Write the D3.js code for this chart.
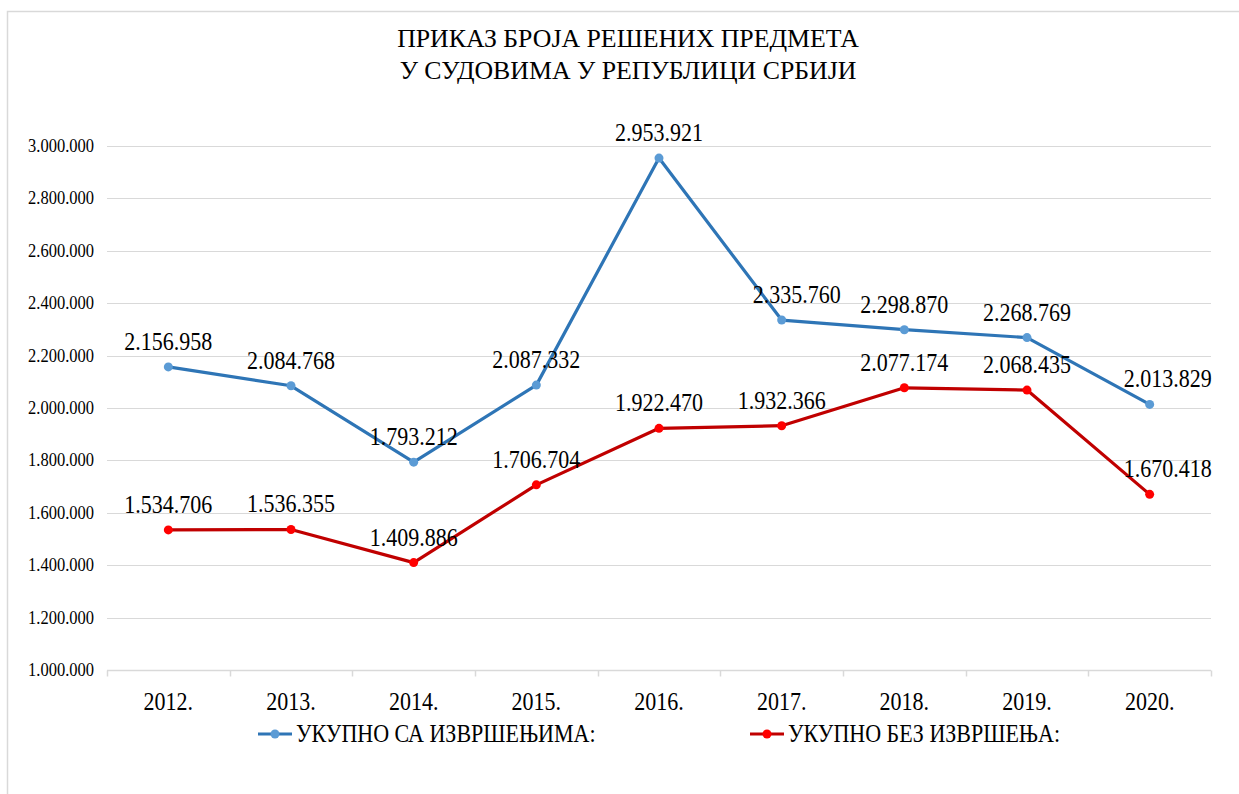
<!DOCTYPE html>
<html>
<head>
<meta charset="utf-8">
<script src="https://cdn.jsdelivr.net/npm/d3@7"></script>
<style>
  html, body { margin: 0; padding: 0; background: #fff; }
  svg { display: block; }
  text { font-family: "Liberation Serif", "Times New Roman", serif; fill: #000; }
</style>
</head>
<body>
<svg id="chart" width="1239" height="794"></svg>
<script>
const years = ["2012.", "2013.", "2014.", "2015.", "2016.", "2017.", "2018.", "2019.", "2020."];
const withEnforcement = [2156958, 2084768, 1793212, 2087332, 2953921, 2335760, 2298870, 2268769, 2013829];
const withoutEnforcement = [1534706, 1536355, 1409886, 1706704, 1922470, 1932366, 2077174, 2068435, 1670418];
const yTicks = [1000000, 1200000, 1400000, 1600000, 1800000, 2000000, 2200000, 2400000, 2600000, 2800000, 3000000];
const titleLines = ["ПРИКАЗ БРОЈА РЕШЕНИХ ПРЕДМЕТА", "У СУДОВИМА У РЕПУБЛИЦИ СРБИЈИ"];
const seriesNames = ["УКУПНО СА ИЗВРШЕЊИМА:", "УКУПНО БЕЗ ИЗВРШЕЊА:"];

const K = 1.13; // vertical stretch of text
const svg = d3.select("#chart");

svg.append("rect").attr("x", 7.5).attr("y", 11.5).attr("width", 1300).attr("height", 900)
  .attr("fill", "none").attr("stroke", "#d9d9d9").attr("stroke-width", 1.5);

const x = d3.scaleBand().domain(years).range([107, 1211]);
const y = d3.scaleLinear().domain([1000000, 3000000]).range([670, 146]);
const cx = d => x(d) + x.bandwidth() / 2;

const fmt = v => d3.format(",")(v).replace(/,/g, ".");

function stretchedText(g, px, py, str, size, anchor, k) {
  return g.append("text")
    .attr("transform", `translate(${px},${py}) scale(1,${k === undefined ? K : k})`)
    .attr("text-anchor", anchor || "middle")
    .attr("font-size", size)
    .text(str);
}

// title
titleLines.forEach((t, i) => stretchedText(svg, 628, 47 + i * 32, t, 25.8, "middle", 1));

// gridlines
svg.append("g").selectAll("line").data(yTicks.slice(1)).join("line")
  .attr("x1", 107).attr("x2", 1211)
  .attr("y1", d => Math.round(y(d)) + 0.5).attr("y2", d => Math.round(y(d)) + 0.5)
  .attr("stroke", "#d9d9d9").attr("stroke-width", 1);

// y axis labels
const yAxis = d3.axisLeft(y).tickValues(yTicks).tickSize(0).tickPadding(0).tickFormat(fmt);
const yg = svg.append("g").attr("transform", "translate(94,0)").call(yAxis);
yg.select(".domain").remove();
yg.selectAll("text")
  .attr("x", null).attr("dy", null).attr("y", 0)
  .attr("transform", `translate(0,5.5) scale(1,${K})`)
  .attr("font-size", 16.5)
  .attr("font-family", "Liberation Serif, Times New Roman, serif")
  .attr("fill", "#000");

// x axis
const xg = svg.append("g").attr("transform", "translate(0,670.5)");
xg.append("line").attr("x1", 107).attr("x2", 1211).attr("stroke", "#d9d9d9").attr("stroke-width", 1.5);
const boundaries = years.map(d => x(d)).concat([x.range()[1]]);
xg.selectAll("line.tick").data(boundaries).join("line").attr("class", "tick")
  .attr("x1", d => Math.round(d) + 0.5).attr("x2", d => Math.round(d) + 0.5)
  .attr("y1", 0).attr("y2", 6).attr("stroke", "#d9d9d9").attr("stroke-width", 1.5);
years.forEach(d => stretchedText(xg, cx(d), 39, d, 22));

// series
const series = [
  { values: withEnforcement, line: "#2e75b6", marker: "#5b9bd5" },
  { values: withoutEnforcement, line: "#c00000", marker: "#ff0000" }
];
const lineGen = d3.line().x((v, i) => cx(years[i])).y(v => y(v));

series.forEach((s, si) => {
  const g = svg.append("g");
  g.append("path").datum(s.values).attr("d", lineGen)
    .attr("fill", "none").attr("stroke", s.line).attr("stroke-width", 3.2)
    .attr("stroke-linejoin", "round");
  g.selectAll("circle").data(s.values).join("circle")
    .attr("cx", (v, i) => cx(years[i])).attr("cy", v => y(v)).attr("r", 4.5)
    .attr("fill", s.marker);
  s.values.forEach((v, i) => {
    let dx = 0;
    if (i === years.length - 1) dx = 18;
    if (si === 0 && i === 5) dx = 15;
    stretchedText(g, cx(years[i]) + dx, y(v) - 17, fmt(v), 22);
  });
});

// legend
const legendItems = [
  { x: 258, name: seriesNames[0], line: series[0].line, marker: series[0].marker },
  { x: 750, name: seriesNames[1], line: series[1].line, marker: series[1].marker }
];
legendItems.forEach(l => {
  const g = svg.append("g").attr("transform", `translate(${l.x},734)`);
  g.append("line").attr("x1", 0).attr("x2", 34).attr("stroke", l.line).attr("stroke-width", 3.2);
  g.append("circle").attr("cx", 17).attr("r", 4.5).attr("fill", l.marker);
  stretchedText(g, 38, 8, l.name, 22, "start");
});
</script>
</body>
</html>
